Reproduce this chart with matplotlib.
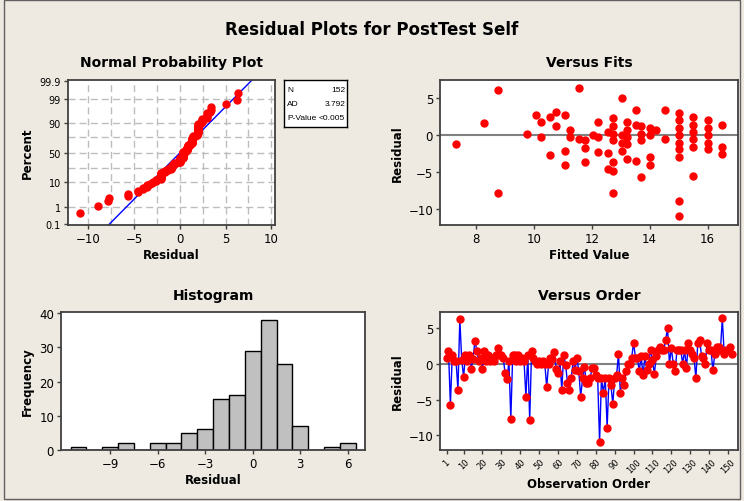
import numpy as np
import matplotlib
matplotlib.use("Agg")
import matplotlib.pyplot as plt
from matplotlib.patches import Rectangle
from statistics import NormalDist

residuals = [
    0.8, 1.9, -5.7, 1.3, 0.4, 0.4, -3.6, 6.3, 0.6, -1.8,
    1.3, 0.4, 1.3, -0.7, 0.7, 3.3, 1.9, 0.4, 0.8, -0.7,
    1.9, 0.4, 1.3, 0.4, 0.8, 0.4, 1.3, 2.2, 1.3, 1.3,
    0.8, -1.3, -2.1, 0.4, -7.7, 1.3, 1.3, 0.4, 1.3, 0.4,
    0.8, 0.4, -4.6, 1.3, -7.8, 1.9, 0.8, 0.4, 0.0, 0.4,
    0.0, 0.4, 0.0, -3.2, 0.0, 0.8, 0.7, 1.7, -0.7, -1.3,
    0.4, -3.6, 1.3, -0.1, -2.6, -3.6, -2.0, 0.4, -0.8, 0.9,
    -1.0, -4.6, -2.0, -0.4, -2.6, -2.6, -2.0, -0.6, -0.6, -1.6,
    -2.0, -10.9, -2.0, -4.0, -2.0, -8.9, -2.0, -2.9, -5.6, -2.0,
    -1.6, 1.4, -4.0, -2.0, -3.0, -1.0, 0.0, 0.0, 0.9, 3.0,
    0.9, 0.9, -1.0, 1.1, -1.6, 1.1, -0.8, 0.0, 2.0, 0.6,
    -1.4, 1.1, 2.0, 2.4, 2.0, 2.0, 3.4, 5.0, 0.0, 2.3,
    0.0, -1.0, 2.0, 2.0, 2.0, 0.0, 2.0, -0.6, 3.0, 2.0,
    1.4, 0.9, -2.0, 3.0, 3.4, 1.1, 0.9, 0.0, 3.0, 2.0,
    2.0, -0.9, 1.4, 2.4, 2.4, 2.0, 6.4, 1.4, 2.0, 2.0,
    2.4, 1.4,
]

# "Versus Fits" points as they appear (overlapping ones drawn once)
fits_x = [7.31, 8.29, 8.78, 8.78, 9.77, 10.08, 10.25, 10.25, 10.57, 10.57,
          10.75, 10.75, 11.07, 11.07, 11.07, 11.24, 11.24, 11.56, 11.56, 11.75,
          11.75, 11.75, 12.05, 12.23, 12.23, 12.23, 12.55, 12.55, 12.55, 12.72,
          12.72, 12.72, 12.72, 12.72, 12.72, 12.72, 13.05, 13.05, 13.05, 13.05,
          13.22, 13.22, 13.22, 13.22, 13.22, 13.53, 13.53, 13.53, 13.71, 13.71,
          13.71, 13.71, 14.02, 14.02, 14.02, 14.02, 14.21, 14.52, 14.52, 15.0,
          15.0, 15.0, 15.0, 15.0, 15.0, 15.0, 15.0, 15.0, 15.5, 15.5,
          15.5, 15.5, 15.5, 15.5, 16.0, 16.0, 16.0, 16.0, 16.0, 16.5,
          16.5, 16.5]
fits_res = [-1.2, 1.6, 6.2, -7.8, 0.2, 2.8, 1.8, -0.3, 2.5, -2.7,
            3.2, 1.3, 2.8, -2.1, -4.1, 0.7, -0.3, 6.4, -0.5, -0.7,
            -1.8, -3.7, 0.05, 1.8, -0.2, -2.3, 0.45, -2.4, -4.6, 2.4,
            1.3, 0.2, -0.7, -3.7, -4.8, -7.8, 5.0, 0.0, -1.1, -2.1,
            1.8, 0.7, -0.2, -1.2, -3.2, 3.4, 1.4, -3.5, 1.3, 0.2,
            -0.7, -5.7, 1.0, 0.0, -3.0, -4.1, 0.7, 3.4, -0.5, 3.0,
            2.0, 1.0, 0.0, -1.1, -1.9, -3.0, -9.0, -11.0, 2.5, 1.4,
            0.5, -0.5, -1.6, -5.5, 2.0, 1.0, 0.0, -1.0, -1.9, 1.4,
            -1.6, -2.5]

stat_names = ["N", "AD", "P-Value"]
stat_values = ["152", "3.792", "<0.005"]
pct_ticks = [0.1, 1, 10, 50, 90, 99, 99.9]
pct_labels = ["0.1", "1", "10", "50", "90", "99", "99.9"]
pct_grid = [1, 10, 25, 50, 75, 90, 99]
hist_edges = np.arange(-11.5, 7.0, 1.0)
order_ticks = [1, 10, 20, 30, 40, 50, 60, 70, 80, 90, 100, 110, 120, 130, 140, 150]

W, H = 744, 502
BG = "#EEEAE1"
SPINE = "#404040"

plt.rcParams["font.family"] = ["DejaVu Sans"]

fig = plt.figure(figsize=(W / 100, H / 100), dpi=100, facecolor=BG)
fig.patches.append(Rectangle((4 / W, 1 - 500 / H), 736 / W, 499 / H, transform=fig.transFigure,
                             fill=False, edgecolor="#606060", lw=1))


def px_axes(l, t, r, b):
    ax = fig.add_axes([l / W, 1 - b / H, (r - l) / W, (b - t) / H])
    ax.set_facecolor("white")
    for s in ax.spines.values():
        s.set_color(SPINE)
        s.set_linewidth(1.3)
    ax.tick_params(direction="out", length=3, width=1, color=SPINE, labelsize=8.5, pad=2)
    return ax


def px_text(x, y, s, **kw):
    fig.text(x / W, 1 - y / H, s, ha="center", va="center", **kw)


px_text(372, 30, "Residual Plots for PostTest Self", fontsize=12, fontweight="bold")

res = np.array(residuals)
n = len(res)
nd = NormalDist()

# ---- normal probability plot
ax1 = px_axes(68, 81, 275, 226)
rs = np.sort(res)
pp = (np.arange(1, n + 1) - 0.3) / (n + 0.4)
zq = np.array([nd.inv_cdf(p) for p in pp])
mu, sd = res.mean(), res.std(ddof=1)
zl = np.array([-3.5, 3.5])
ax1.set_xticks([-10, -5, 0, 5, 10])
for gx in np.arange(-10, 10.1, 2.5):
    ax1.axvline(gx, color="#BDBDBD", linestyle=(0, (5, 3)), lw=1, zorder=0)
for gp in pct_grid:
    ax1.axhline(nd.inv_cdf(gp / 100), color="#BDBDBD", linestyle=(0, (5, 3)), lw=1, zorder=0)
ax1.set_yticks([nd.inv_cdf(p / 100) for p in pct_ticks])
ax1.set_yticklabels(pct_labels, fontsize=7)
ax1.plot(mu + sd * zl, zl, color="blue", lw=1, zorder=2)
ax1.plot(rs, zq, "o", color="red", ms=5, mec="red", zorder=3)
ax1.set_xlim(-12.2, 10.4)
ax1.set_ylim(-3.12, 3.15)
ax1.set_xlabel("Residual", fontsize=8.5, fontweight="bold", labelpad=2)
ax1.set_ylabel("Percent", fontsize=8.5, fontweight="bold", labelpad=4)
px_text(171, 63, "Normal Probability Plot", fontsize=10, fontweight="bold")

# stats box
box = fig.add_axes([284 / W, 1 - 128 / H, 63 / W, 47 / H])
box.set_xticks([])
box.set_yticks([])
for s in box.spines.values():
    s.set_color("black")
    s.set_linewidth(1)
for i, (nm, v) in enumerate(zip(stat_names, stat_values)):
    yy = 0.8 - i * 0.3
    box.text(0.05, yy, nm, fontsize=6.0, va="center", ha="left", family="Liberation Sans")
    box.text(0.97, yy, v, fontsize=6.0, va="center", ha="right", family="Liberation Sans")

# ---- versus fits
ax2 = px_axes(440, 81, 738, 226)
ax2.axhline(0, color="#808080", lw=1.5, zorder=1)
ax2.plot(fits_x, fits_res, "o", color="red", ms=5, zorder=3)
ax2.set_xlim(6.76, 17.05)
ax2.set_ylim(-12.2, 7.5)
ax2.set_xticks([8, 10, 12, 14, 16])
ax2.set_yticks([5, 0, -5, -10])
ax2.set_xlabel("Fitted Value", fontsize=8.5, fontweight="bold", labelpad=2)
ax2.set_ylabel("Residual", fontsize=8.5, fontweight="bold", labelpad=3)
px_text(589, 63, "Versus Fits", fontsize=10, fontweight="bold")

# ---- histogram
ax3 = px_axes(61, 313, 365, 451)
ax3.hist(res, bins=hist_edges, color="#C0C0C0", edgecolor="black", lw=1)
ax3.set_xlim(-12.1, 7.08)
ax3.set_ylim(0, 40.3)
ax3.set_xticks([-9, -6, -3, 0, 3, 6])
ax3.set_yticks([0, 10, 20, 30, 40])
ax3.set_xlabel("Residual", fontsize=8.5, fontweight="bold", labelpad=2)
ax3.set_ylabel("Frequency", fontsize=8.5, fontweight="bold", labelpad=4)
px_text(213, 296, "Histogram", fontsize=10, fontweight="bold")

# ---- versus order
ax4 = px_axes(440, 313, 738, 451)
obs = np.arange(1, n + 1)
ax4.axhline(0, color="#808080", lw=1.5, zorder=1)
ax4.plot(obs, res, color="blue", lw=1, zorder=2)
ax4.plot(obs, res, "o", color="red", ms=5, zorder=3)
ax4.set_xlim(-2.5, 155.3)
ax4.set_ylim(-12.05, 7.3)
ax4.set_xticks(order_ticks)
ax4.set_xticklabels([str(t) for t in order_ticks], rotation=45, fontsize=6)
ax4.set_yticks([5, 0, -5, -10])
ax4.set_xlabel("Observation Order", fontsize=8.5, fontweight="bold", labelpad=2)
ax4.set_ylabel("Residual", fontsize=8.5, fontweight="bold", labelpad=3)
px_text(589, 296, "Versus Order", fontsize=10, fontweight="bold")

fig.savefig("out.png", dpi=100, facecolor=BG)
